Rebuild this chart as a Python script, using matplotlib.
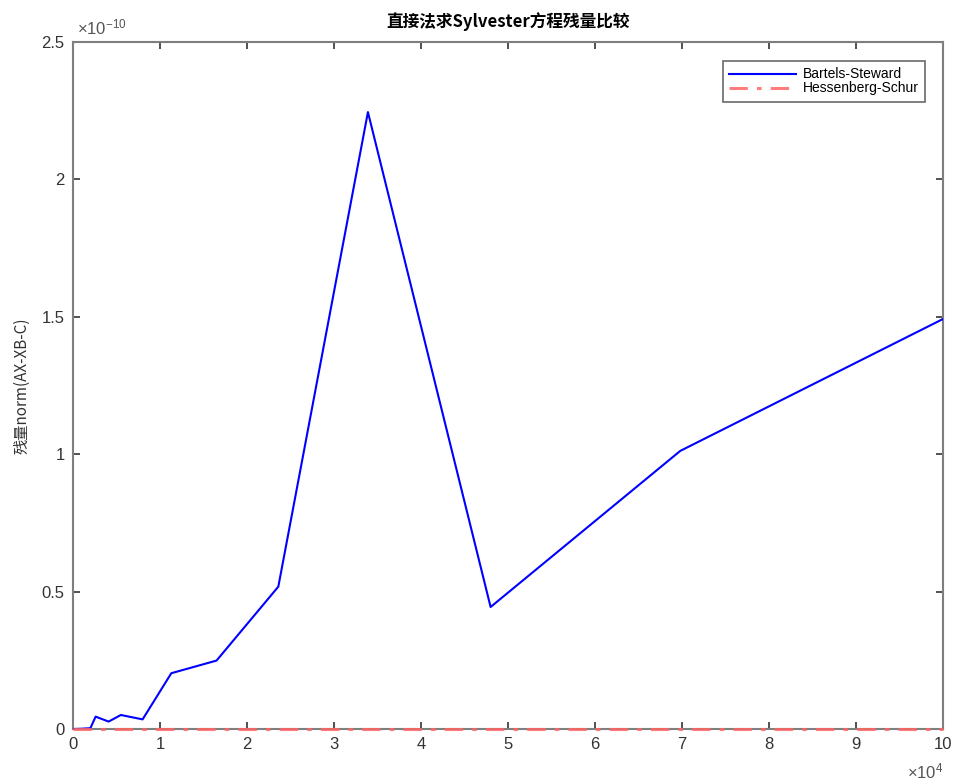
import matplotlib
matplotlib.use("Agg")
import matplotlib.pyplot as plt
from matplotlib.ticker import FixedLocator, FixedFormatter

plt.rcParams['font.family'] = ['Liberation Sans', 'Noto Sans CJK SC', 'DejaVu Sans']
plt.rcParams['mathtext.fontset'] = 'custom'
plt.rcParams['mathtext.rm'] = 'Liberation Sans'
plt.rcParams['mathtext.it'] = 'Liberation Sans'

# Data
sizes = [0, 1000, 2000, 2600, 4100, 5500, 8000, 11300, 16500, 23600, 33900, 48000, 69800, 100000]
bartels_stewart = [0.0, 0.001e-10, 0.003e-10, 0.045e-10, 0.027e-10, 0.051e-10, 0.035e-10,
                   0.203e-10, 0.249e-10, 0.518e-10, 2.245e-10, 0.444e-10, 1.012e-10, 1.492e-10]
hessenberg_schur = [0.0] * len(sizes)

title = "直接法求Sylvester方程残量比较"
ylabel = "残量norm(AX-XB-C)"
labels = ["Bartels-Steward", "Hessenberg-Schur"]
xticks = [0, 10000, 20000, 30000, 40000, 50000, 60000, 70000, 80000, 90000, 100000]
xticklabels = ["0", "1", "2", "3", "4", "5", "6", "7", "8", "9", "10"]
yticks = [0, 0.5e-10, 1.0e-10, 1.5e-10, 2.0e-10, 2.5e-10]
yticklabels = ["0", "0.5", "1", "1.5", "2", "2.5"]

fig = plt.figure(figsize=(9.56, 7.81), dpi=100)
ax = fig.add_axes([73/956, 1 - 729/781, (943-73)/956, (729-42)/781])

ax.plot(sizes, bartels_stewart, color='#0000ff', lw=1.5, label=labels[0], zorder=3)
ax.plot(sizes, hessenberg_schur, color='#ff6666', lw=2.2, ls=(0, (6, 3, 1.5, 3)), alpha=0.85,
        label=labels[1], clip_on=False, zorder=4)

ax.set_xlim(0, 100000)
ax.set_ylim(0, 2.5e-10)
ax.xaxis.set_major_locator(FixedLocator(xticks))
ax.xaxis.set_major_formatter(FixedFormatter(xticklabels))
ax.yaxis.set_major_locator(FixedLocator(yticks))
ax.yaxis.set_major_formatter(FixedFormatter(yticklabels))

gray = '#7f7f7f'
for s in ax.spines.values():
    s.set_color(gray)
    s.set_linewidth(1.5)
ax.tick_params(direction='in', top=True, right=True, length=5, width=1.2, color='#333333',
               labelsize=12, labelcolor='#333333', pad=6)

ax.text(0.005, 1.006, "×10$^{-10}$", transform=ax.transAxes, fontsize=12,
        color='#555555', ha='left', va='bottom')
ax.text(1.0, -0.048, "×10$^{4}$", transform=ax.transAxes, fontsize=12,
        color='#555555', ha='right', va='top')

ax.set_title(title, fontsize=12, fontweight='bold', family=['Noto Sans CJK SC', 'DejaVu Sans'], pad=11)
ax.set_ylabel(ylabel, fontsize=11, family=['Noto Sans CJK SC', 'DejaVu Sans'], color='#333333', labelpad=8)

leg = ax.legend(loc='upper right', bbox_to_anchor=(0.979, 0.972), fontsize=10, frameon=True,
                fancybox=False, edgecolor='#444444', handlelength=4.8, borderpad=0.45,
                labelspacing=0.0, handletextpad=0.5, borderaxespad=0)
leg.get_frame().set_linewidth(1.2)

fig.savefig("out.png", dpi=100)
